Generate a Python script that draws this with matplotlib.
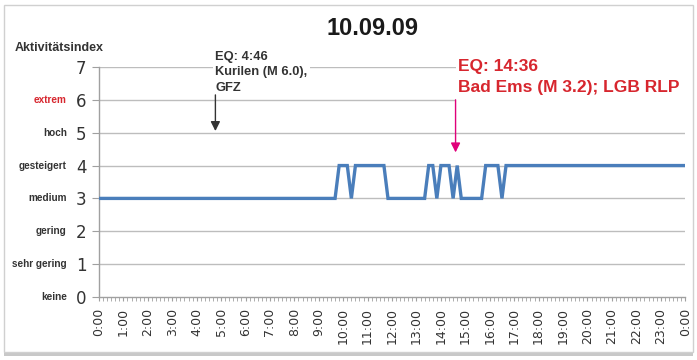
import matplotlib.pyplot as plt
import matplotlib.transforms as mtransforms
from matplotlib.patches import Rectangle

# activity index, one value every 10 minutes from 0:00 to 24:00
index_values = [
    3, 3, 3, 3, 3, 3,   # 0
    3, 3, 3, 3, 3, 3,   # 1
    3, 3, 3, 3, 3, 3,   # 2
    3, 3, 3, 3, 3, 3,   # 3
    3, 3, 3, 3, 3, 3,   # 4
    3, 3, 3, 3, 3, 3,   # 5
    3, 3, 3, 3, 3, 3,   # 6
    3, 3, 3, 3, 3, 3,   # 7
    3, 3, 3, 3, 3, 3,   # 8
    3, 3, 3, 3, 3, 4,   # 9
    4, 4, 3, 4, 4, 4,   # 10
    4, 4, 4, 4, 4, 3,   # 11
    3, 3, 3, 3, 3, 3,   # 12
    3, 3, 3, 4, 4, 3,   # 13
    4, 4, 4, 3, 4, 3,   # 14
    3, 3, 3, 3, 3, 4,   # 15
    4, 4, 4, 3, 4, 4,   # 16
    4, 4, 4, 4, 4, 4,   # 17
    4, 4, 4, 4, 4, 4,   # 18
    4, 4, 4, 4, 4, 4,   # 19
    4, 4, 4, 4, 4, 4,   # 20
    4, 4, 4, 4, 4, 4,   # 21
    4, 4, 4, 4, 4, 4,   # 22
    4, 4, 4, 4, 4, 4,   # 23
    4,                  # 24:00
]
hours = [k / 6 for k in range(len(index_values))]

hour_labels = ['%d:00' % h for h in range(24)] + ['0:00']
level_numbers = [0, 1, 2, 3, 4, 5, 6, 7]
level_names = ['keine', 'sehr gering', 'gering', 'medium', 'gesteigert', 'hoch', 'extrem', '']

eq1_time = 4 + 46 / 60
eq2_time = 14 + 36 / 60

narrow = ['Liberation Sans', 'DejaVu Sans']
grey_txt = '#333333'
red_txt = '#d7262e'
magenta = '#e0007a'
line_blue = '#4a7ebb'

fig = plt.figure(figsize=(6.97, 3.6), dpi=100)

# outer frame with a soft bottom shadow
fig.patches.append(Rectangle((0.006, 0.022), 0.988, 0.965, transform=fig.transFigure,
                             facecolor='white', edgecolor='#d0d0d0', linewidth=1.0, zorder=-10))
fig.patches.append(Rectangle((0.006, 0.012), 0.988, 0.011, transform=fig.transFigure,
                             facecolor='#c8c8c8', edgecolor='none', zorder=-11))

ax = fig.add_axes([0.142, 0.175, 0.841, 0.639])
ax.set_xlim(0, 24)
ax.set_ylim(0, 7)

for lv in level_numbers[1:]:
    ax.axhline(lv, color='#bdbdbd', linewidth=1.0, zorder=1)

ax.plot(hours, index_values, color=line_blue, linewidth=2.4, zorder=3,
        solid_joinstyle='miter')

for side in ['top', 'right']:
    ax.spines[side].set_visible(False)
for side in ['left', 'bottom']:
    ax.spines[side].set_color('#a0a0a0')
    ax.spines[side].set_linewidth(1.0)

ax.set_xticks(range(25))
ax.set_xticklabels(hour_labels, rotation=90, fontsize=9, color=grey_txt)
ax.set_xticks(hours, minor=True)
ax.tick_params(axis='x', which='both', length=3, color='#a0a0a0', pad=5)

ax.set_yticks(level_numbers)
ax.set_yticklabels([str(v) for v in level_numbers], fontsize=12, color=grey_txt)
ax.tick_params(axis='y', length=5, color='#a0a0a0', pad=4)

trans = mtransforms.blended_transform_factory(ax.transAxes, ax.transData)
for lv, name in zip(level_numbers, level_names):
    ax.text(-0.055, lv, name, transform=trans, ha='right', va='center',
            fontsize=7.2, fontweight='bold', family=narrow,
            color=red_txt if name == 'extrem' else grey_txt)

fig.text(0.021, 0.866, 'Aktivitätsindex', fontsize=9, fontweight='bold',
         family=narrow, color=grey_txt, va='center')
fig.text(0.534, 0.922, '10.09.09', fontsize=17, fontweight='bold', family=narrow,
         color='#1a1a1a', ha='center', va='center')

# earthquake annotations
ax.text(eq1_time, 7.5, 'EQ: 4:46\nKurilen (M 6.0),\nGFZ', fontsize=9.3, fontweight='bold',
        family=narrow, color=grey_txt, ha='left', va='top', linespacing=1.4, zorder=4,
        bbox=dict(facecolor='white', edgecolor='none', pad=1.5))
ax.annotate('', xy=(eq1_time, 5.05), xytext=(eq1_time, 6.15),
            arrowprops=dict(arrowstyle='-|>', color='#333333', linewidth=1.0,
                            mutation_scale=14, shrinkA=0, shrinkB=0), zorder=4)

# white patch hiding the grid behind the red note
ax.add_patch(Rectangle((eq2_time, 5.9), 24.15 - eq2_time, 1.5, facecolor='white',
                       edgecolor='none', zorder=2, clip_on=False))
ax.text(eq2_time + 0.08, 7.25, 'EQ: 14:36\nBad Ems (M 3.2); LGB RLP', fontsize=12.5,
        fontweight='bold', family=narrow, color=red_txt, ha='left', va='top',
        linespacing=1.5, zorder=4)
ax.annotate('', xy=(eq2_time, 4.4), xytext=(eq2_time, 6.0),
            arrowprops=dict(arrowstyle='-|>', color=magenta, linewidth=1.0,
                            mutation_scale=14, shrinkA=0, shrinkB=0), zorder=4)

fig.savefig('out.png', dpi=100)
